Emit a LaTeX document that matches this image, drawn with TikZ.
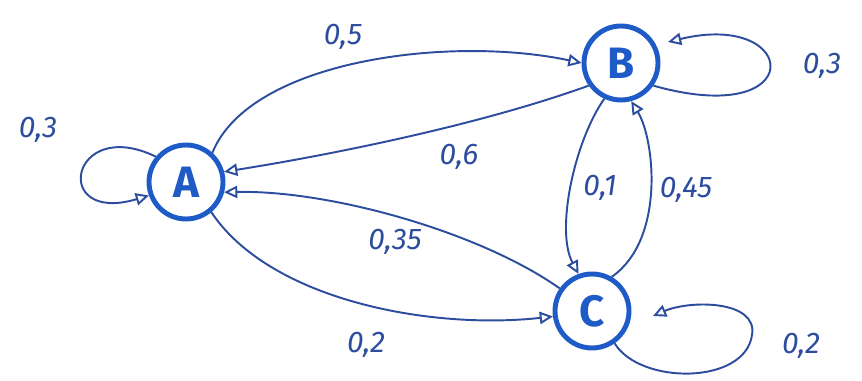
\documentclass[tikz,border=0pt]{standalone}
\usepackage{fontspec}
\setmainfont{Fira Sans}
\usetikzlibrary{arrows.meta}
\definecolor{nodeblue}{HTML}{1E5BC6}
\definecolor{edgeblue}{HTML}{2C4C9E}
\begin{document}
\begin{tikzpicture}[x=0.02cm,y=-0.02cm,
  state/.style={circle,draw=nodeblue,line width=2.8pt,minimum size=74*0.02cm,inner sep=0pt,text=nodeblue,font=\fontsize{25}{28}\selectfont\bfseries},
  edge/.style={draw=edgeblue,line width=1.1pt,-{Triangle[open,length=7.5pt,width=7pt]}},
  lbl/.style={text=edgeblue,font=\fontsize{17}{20}\selectfont\itshape}]
\useasboundingbox (0,0) rectangle (862,381);
\node[state] (A) at (186,182) {A};
\node[state] (B) at (621,63) {B};
\node[state] (C) at (592,311) {C};
\coordinate (bl) at (668,42);
\coordinate (cl) at (653,316);
% A -> B
\draw[edge] (A.48) .. controls (250,60) and (450,35) .. (B.west);
% B -> A
\draw[edge] (B.215) .. controls (480,125) and (330,155) .. (A.15);
% A self
\draw[edge] (A.140) .. controls (70,115) and (50,225) .. (A.200);
% A -> C
\draw[edge] (A.-50) .. controls (270,300) and (430,330) .. (C.188);
% C -> A
\draw[edge] (C.145) .. controls (480,232) and (330,190) .. (A.-15);
% B -> C
\draw[edge] (B.-115) .. controls (575,140) and (555,230) .. (C.110);
% C -> B
\draw[edge] (C.60) .. controls (665,240) and (655,140) .. (B.-75);
% B self
\draw[edge] (B.-35) .. controls (810,130) and (800,10) .. (bl);
% C self
\draw[edge] (C.-55) .. controls (640,385) and (745,385) .. (752,335) .. controls (758,300) and (690,300) .. (cl);
% labels
\node[lbl] (l1) at (343,37) {0,5};
\node[lbl] (l2) at (822,66) {0,3};
\node[lbl] (l3) at (38,130) {0,3};
\node[lbl] (l4) at (459,157) {0,6};
\node[lbl] (l5) at (600,188) {0,1};
\node[lbl] (l6) at (686,190) {0,45};
\node[lbl] (l7) at (395,242) {0,35};
\node[lbl] (l8) at (366,345) {0,2};
\node[lbl] (l9) at (801,346) {0,2};
\end{tikzpicture}
\end{document}
